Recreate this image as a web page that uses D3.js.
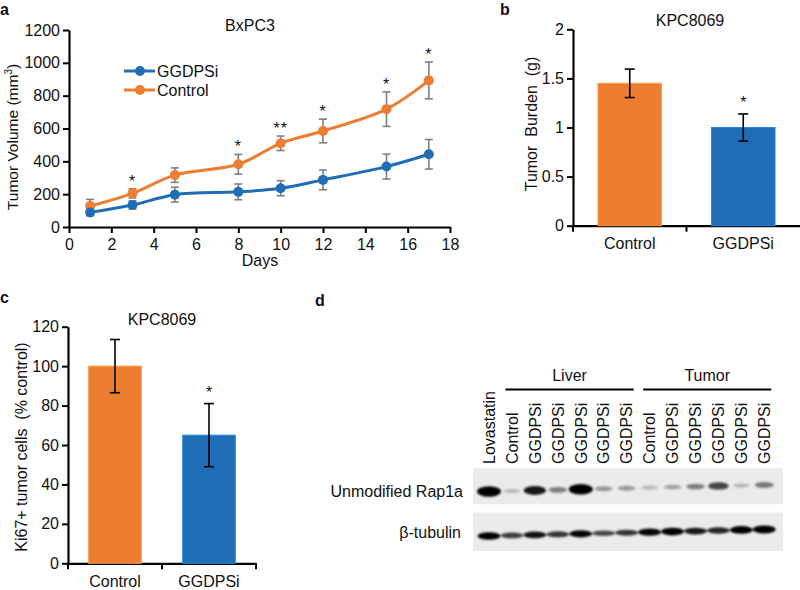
<!DOCTYPE html>
<html>
<head>
<meta charset="utf-8">
<script src="https://cdn.jsdelivr.net/npm/d3@7"></script>
<style>
  html, body { margin: 0; padding: 0; background: #fff; }
  svg { display: block; font-family: "Liberation Sans", Arial, sans-serif; }
  text { fill: #111; }
</style>
</head>
<body>
<svg id="chart" width="800" height="590"></svg>
<script>
// ---------- DATA ----------
// Panel a: BxPC3 tumor volume
const days = [1, 3, 5, 8, 10, 12, 15, 17];
const ggdpsiVol = [89, 134, 197, 214, 236, 287, 368, 443];
const ggdpsiErr = [20, 25, 45, 48, 46, 60, 76, 90];
const controlVol = [128, 205, 316, 382, 510, 585, 718, 893];
const controlErr = [40, 28, 44, 60, 44, 72, 105, 112];
const sigStars = ["", "*", "", "*", "**", "*", "*", "*"];
const xTicksA = [0, 2, 4, 6, 8, 10, 12, 14, 16, 18];
const yTicksA = [0, 200, 400, 600, 800, 1000, 1200];

// Panel b: tumor burden
const groupsB = ["Control", "GGDPSi"];
const burden = [1.45, 1.0];
const burdenErr = [0.145, 0.138];
const starsB = ["", "*"];
const yTicksB = [0, 0.5, 1, 1.5, 2];
const yTickLabelsB = ["0", "0.5", "1", "1.5", "2"];

// Panel c: Ki67+
const groupsC = ["Control", "GGDPSi"];
const ki67 = [100, 65];
const ki67Err = [13.5, 16];
const starsC = ["", "*"];
const yTicksC = [0, 20, 40, 60, 80, 100, 120];

// Panel d: western blot (relative band intensities 0..1)
const laneLabels = ["Lovastatin", "Control", "GGDPSi", "GGDPSi", "GGDPSi", "GGDPSi", "GGDPSi",
                    "Control", "GGDPSi", "GGDPSi", "GGDPSi", "GGDPSi", "GGDPSi"];
const laneGroups = [{ name: "Liver", first: 1, last: 6 }, { name: "Tumor", first: 7, last: 12 }];
const blotRows = ["Unmodified Rap1a", "β-tubulin"];
const rap1aIntensity = [1.0, 0.07, 0.8, 0.33, 1.0, 0.22, 0.2, 0.07, 0.17, 0.33, 0.58, 0.08, 0.35];
const tubulinIntensity = [0.92, 0.55, 0.78, 0.58, 0.85, 0.5, 0.6, 0.85, 0.95, 0.75, 0.68, 0.95, 1.0];

const ORANGE = "#ED7D31", BLUE = "#1F6EB5", GREY = "#7F7F7F";
const FS = 16;

const svg = d3.select("#chart");

// defs: blur for bands
const defs = svg.append("defs");
defs.append("filter").attr("id", "blur").attr("x", "-50%").attr("y", "-100%").attr("width", "200%").attr("height", "300%")
  .append("feGaussianBlur").attr("stdDeviation", "1.3 1.1");

function styleAxis(g) {
  g.selectAll(".domain").attr("stroke", "#000").attr("stroke-width", 2.2);
  g.selectAll(".tick line").attr("stroke", "#000").attr("stroke-width", 2);
  g.selectAll(".tick text").attr("font-size", FS).attr("fill", "#111")
    .attr("font-family", "Liberation Sans, Arial, sans-serif");
}

function panelLabel(t, x, y) {
  svg.append("text").attr("x", x).attr("y", y).attr("font-size", 16).attr("font-weight", "bold").text(t);
}

// ---------- PANEL A ----------
{
  const x = d3.scaleLinear().domain([0, 18]).range([69, 450]);
  const y = d3.scaleLinear().domain([0, 1200]).range([227, 30]);
  const g = svg.append("g");

  g.append("g").attr("transform", `translate(0,${y(0)})`)
    .call(d3.axisBottom(x).tickValues(xTicksA).tickFormat(d3.format("d")).tickSize(6).tickPadding(6).tickSizeOuter(0))
    .call(styleAxis);
  g.append("g").attr("transform", `translate(${x(0)},0)`)
    .call(d3.axisLeft(y).tickValues(yTicksA).tickFormat(d3.format("d")).tickSize(6).tickPadding(3).tickSizeOuter(0))
    .call(styleAxis);

  const series = [
    { name: "Control", vals: controlVol, err: controlErr, color: ORANGE },
    { name: "GGDPSi", vals: ggdpsiVol, err: ggdpsiErr, color: BLUE }
  ];
  const line = d3.line().x((d, i) => x(days[i])).y(d => y(d)).curve(d3.curveCatmullRom.alpha(0.5));

  // error bars
  series.forEach(s => {
    const eb = g.append("g").attr("stroke", GREY).attr("stroke-width", 1.6);
    s.vals.forEach((v, i) => {
      const cx = x(days[i]);
      eb.append("line").attr("x1", cx).attr("x2", cx).attr("y1", y(v - s.err[i])).attr("y2", y(v + s.err[i]));
      eb.append("line").attr("x1", cx - 4).attr("x2", cx + 4).attr("y1", y(v - s.err[i])).attr("y2", y(v - s.err[i]));
      eb.append("line").attr("x1", cx - 4).attr("x2", cx + 4).attr("y1", y(v + s.err[i])).attr("y2", y(v + s.err[i]));
    });
  });
  series.forEach(s => {
    g.append("path").datum(s.vals).attr("d", line).attr("fill", "none")
      .attr("stroke", s.color).attr("stroke-width", 3);
    g.selectAll(null).data(s.vals).enter().append("circle")
      .attr("cx", (d, i) => x(days[i])).attr("cy", d => y(d)).attr("r", 5).attr("fill", s.color);
  });

  // stars
  g.selectAll(null).data(sigStars).enter().append("text")
    .attr("x", (d, i) => x(days[i])).attr("y", (d, i) => y(controlVol[i] + controlErr[i]) - 2)
    .attr("text-anchor", "middle").attr("font-size", FS).style("letter-spacing", "1px").text(d => d);

  // legend
  const leg = [{ name: "GGDPSi", color: BLUE }, { name: "Control", color: ORANGE }];
  leg.forEach((l, i) => {
    const ly = 71 + i * 19;
    g.append("line").attr("x1", 124).attr("x2", 155).attr("y1", ly).attr("y2", ly)
      .attr("stroke", l.color).attr("stroke-width", 3);
    g.append("circle").attr("cx", 140).attr("cy", ly).attr("r", 5).attr("fill", l.color);
    g.append("text").attr("x", 157).attr("y", ly).attr("dy", "0.36em").attr("font-size", FS).text(l.name);
  });

  g.append("text").attr("x", 250).attr("y", 31).attr("text-anchor", "middle").attr("font-size", FS).text("BxPC3");
  g.append("text").attr("x", 260).attr("y", 266).attr("text-anchor", "middle").attr("font-size", FS).text("Days");
  const yl = g.append("text").attr("transform", "translate(18,137) rotate(-90)")
    .attr("text-anchor", "middle").attr("font-size", 15.5);
  yl.append("tspan").text("Tumor Volume (mm");
  yl.append("tspan").attr("font-size", 10).attr("dy", -6).text("3");
  yl.append("tspan").attr("dy", 6).text(")");
  panelLabel("a", 0, 15);
}

// ---------- BAR PANEL helper ----------
function barPanel(opts) {
  const g = svg.append("g");
  const x = d3.scaleBand().domain(opts.cats).range(opts.xr).paddingInner(0.44).paddingOuter(0.22);
  const y = d3.scaleLinear().domain(opts.ydom).range(opts.yr);

  g.append("g").attr("transform", `translate(${opts.xr[0]},0)`)
    .call(d3.axisLeft(y).tickValues(opts.ticks).tickFormat((d, i) => opts.tickLabels ? opts.tickLabels[i] : d)
      .tickSize(6).tickPadding(3).tickSizeOuter(0))
    .call(styleAxis);
  const xa = g.append("g").attr("transform", `translate(0,${y(0)})`)
    .call(d3.axisBottom(x).tickSize(0).tickPadding(12).tickSizeOuter(0))
    .call(styleAxis);
  // category boundary ticks
  d3.range(opts.cats.length + 1).forEach(k => {
    const bx = opts.xr[0] + k * x.step();
    if (bx <= 799) xa.append("line").attr("x1", bx).attr("x2", bx).attr("y1", 0).attr("y2", 6)
      .attr("stroke", "#000").attr("stroke-width", 2);
  });

  g.selectAll(null).data(opts.vals).enter().append("rect")
    .attr("x", (d, i) => x(opts.cats[i])).attr("width", x.bandwidth())
    .attr("y", d => y(d)).attr("height", d => y(0) - y(d))
    .attr("fill", (d, i) => opts.colors[i])
    .attr("stroke", (d, i) => d3.color(opts.colors[i]).brighter(0.6)).attr("stroke-width", 1);

  const eb = g.append("g").attr("stroke", "#000").attr("stroke-width", 1.6);
  opts.vals.forEach((v, i) => {
    const cx = x(opts.cats[i]) + x.bandwidth() / 2;
    const lo = y(v - opts.errs[i]), hi = y(v + opts.errs[i]);
    eb.append("line").attr("x1", cx).attr("x2", cx).attr("y1", lo).attr("y2", hi);
    eb.append("line").attr("x1", cx - 5).attr("x2", cx + 5).attr("y1", lo).attr("y2", lo);
    eb.append("line").attr("x1", cx - 5).attr("x2", cx + 5).attr("y1", hi).attr("y2", hi);
  });
  g.selectAll(null).data(opts.stars).enter().append("text")
    .attr("x", (d, i) => x(opts.cats[i]) + x.bandwidth() / 2)
    .attr("y", (d, i) => y(opts.vals[i] + opts.errs[i]) - 6)
    .attr("text-anchor", "middle").attr("font-size", FS).attr("fill", "#333").text(d => d);

  g.append("text").attr("x", opts.title[1]).attr("y", opts.title[2]).attr("text-anchor", "middle")
    .attr("font-size", FS).text(opts.title[0]);
  g.append("text").attr("transform", `translate(${opts.ylab[1]},${opts.ylab[2]}) rotate(-90)`)
    .attr("text-anchor", "middle").attr("font-size", FS).style("white-space", "pre").text(opts.ylab[0]);
}

// ---------- PANEL B ----------
barPanel({
  cats: groupsB, vals: burden, errs: burdenErr, stars: starsB, colors: [ORANGE, BLUE],
  xr: [573, 800], yr: [225.7, 29.3], ydom: [0, 2], ticks: yTicksB, tickLabels: yTickLabelsB,
  title: ["KPC8069", 690, 26], ylab: ["Tumor  Burden  (g)", 537, 124]
});
panelLabel("b", 500, 15);

// ---------- PANEL C ----------
barPanel({
  cats: groupsC, vals: ki67, errs: ki67Err, stars: starsC, colors: [ORANGE, BLUE],
  xr: [68, 256], yr: [563.3, 326.7], ydom: [0, 120], ticks: yTicksC,
  title: ["KPC8069", 162, 325], ylab: ["Ki67+ tumor cells  (% control)", 27, 447]
});
panelLabel("c", 0, 303);

// ---------- PANEL D ----------
{
  const g = svg.append("g");
  const lx = d3.scalePoint().domain(d3.range(laneLabels.length)).range([489, 764.3]);
  const blotX0 = 473, blotX1 = 783;
  const rowY = [{ top: 468.3, bottom: 504.3, base: 491.5 }, { top: 512.5, bottom: 551, base: 536 }];
  const tilt = 0.55;

  // lane labels
  g.selectAll(null).data(laneLabels).enter().append("text")
    .attr("transform", (d, i) => `translate(${lx(i)},464) rotate(-90)`)
    .attr("dy", "0.36em").attr("font-size", 16).text(d => d);

  // group labels and lines
  laneGroups.forEach(grp => {
    const x1 = lx(grp.first) - 6.5, x2 = lx(grp.last) + 7;
    g.append("line").attr("x1", x1).attr("x2", x2).attr("y1", 389.5).attr("y2", 389.5)
      .attr("stroke", "#000").attr("stroke-width", 2.2);
    g.append("text").attr("x", (x1 + x2) / 2).attr("y", 381).attr("text-anchor", "middle")
      .attr("font-size", FS).text(grp.name);
  });

  // blot backgrounds
  rowY.forEach(r => {
    g.append("rect").attr("x", blotX0).attr("y", r.top).attr("width", blotX1 - blotX0)
      .attr("height", r.bottom - r.top).attr("fill", "#ebebeb");
  });

  // row labels
  g.append("text").attr("x", 463).attr("y", 491).attr("dy", "0.36em").attr("text-anchor", "end")
    .attr("font-size", FS).text(blotRows[0]);
  g.append("text").attr("x", 461).attr("y", 532).attr("dy", "0.36em").attr("text-anchor", "end")
    .attr("font-size", FS).text(blotRows[1]);

  // bands
  const bandG = g.append("g").attr("filter", "url(#blur)");
  rap1aIntensity.forEach((v, i) => {
    bandG.append("ellipse").attr("cx", lx(i)).attr("cy", rowY[0].base - tilt * i)
      .attr("rx", 8 + 4 * v).attr("ry", 1.8 + 3.4 * v)
      .attr("fill", "#000").attr("opacity", Math.min(1, 0.15 + 0.95 * v));
  });
  tubulinIntensity.forEach((v, i) => {
    bandG.append("ellipse").attr("cx", lx(i)).attr("cy", rowY[1].base - tilt * i)
      .attr("rx", 11.5).attr("ry", 1.6 + 2.4 * v)
      .attr("fill", "#000").attr("opacity", Math.min(1, 0.3 + 0.8 * v));
  });
  panelLabel("d", 315, 306);
}
</script>
</body>
</html>
